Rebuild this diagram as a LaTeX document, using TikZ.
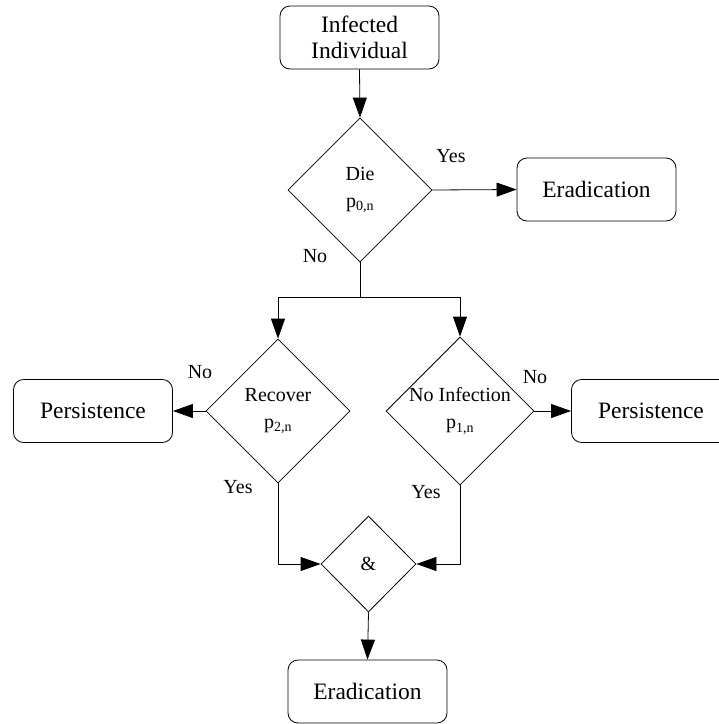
\documentclass[tikz,border=0pt]{standalone}
\usepackage{fontspec}
\setmainfont{Liberation Serif}
\usetikzlibrary{shapes.geometric,arrows.meta}
\begin{document}
\begin{tikzpicture}[x=1pt,y=-1pt,
  box/.style={draw,rounded corners=10pt,minimum width=159pt,minimum height=63pt,inner sep=0pt,align=center,font=\fontsize{23.5}{26}\selectfont},
  dec/.style={draw,diamond,inner sep=0pt,minimum width=144pt,minimum height=144pt,align=center,font=\fontsize{20}{27}\selectfont},
  lbl/.style={inner sep=0pt,font=\fontsize{20}{24}\selectfont},
  arr/.style={-{Triangle[length=20pt,width=14pt]}},
  line width=0.8pt]
\useasboundingbox (0,0) rectangle (719,724);
\node[box] (inf) at (359.5,37.5) {Infected\\Individual};
\node[dec] (die) at (360,190) {Die\\p\textsubscript{0,n}};
\node[box] (erad1) at (596.5,189.5) {Eradication};
\node[dec] (rec) at (278,411) {Recover\\p\textsubscript{2,n}};
\node[dec] (noinf) at (460,411) {No Infection\\p\textsubscript{1,n}};
\node[box] (persL) at (93,411) {Persistence};
\node[box] (persR) at (651,411) {Persistence};
\node[dec,minimum width=95pt,minimum height=96pt] (and) at (368.5,564) {\&};
\node[box] (erad2) at (367.5,691.5) {Eradication};
\coordinate (split) at (360,297);

\draw[arr] (inf.south) -- (die.north);
\draw[arr] (die.east) -- (erad1.west);
\draw (die.south) -- (split);
\draw[arr] (split) -| (rec.north);
\draw[arr] (split) -| (noinf.north);
\draw[arr] (rec.west) -- (persL.east);
\draw[arr] (noinf.east) -- (persR.west);
\draw[arr] (rec.south) |- (and.west);
\draw[arr] (noinf.south) |- (and.east);
\draw[arr] (and.south) -- (erad2.north);

\node[lbl] (yes1) at (451,156) {Yes};
\node[lbl] (no1) at (315,256) {No};
\node[lbl] (no2) at (200,372) {No};
\node[lbl] (no3) at (535,377) {No};
\node[lbl] (yes2) at (238,487) {Yes};
\node[lbl] (yes3) at (426,492) {Yes};
\end{tikzpicture}
\end{document}
